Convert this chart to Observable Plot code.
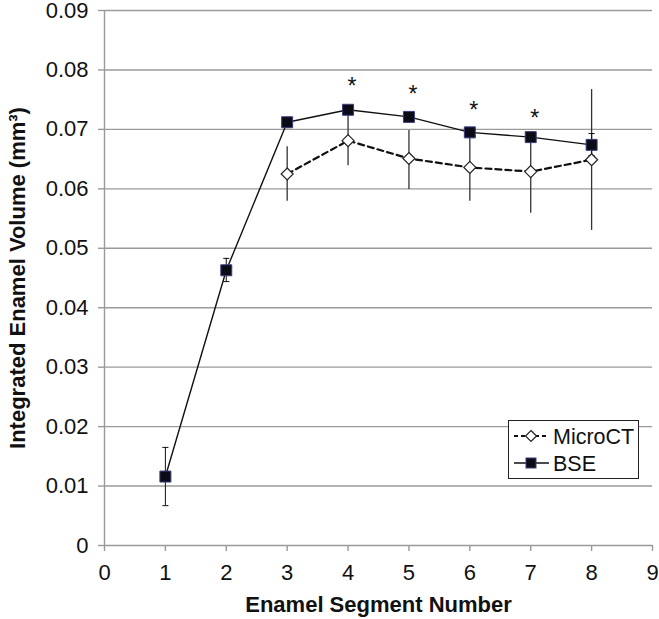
<!DOCTYPE html>
<html>
<head>
<meta charset="utf-8">
<script src="https://cdn.jsdelivr.net/npm/d3@7"></script>
<script src="https://cdn.jsdelivr.net/npm/@observablehq/plot@0.6"></script>
<style>
  html, body { margin: 0; padding: 0; background: #fff; }
  #wrap { position: relative; width: 659px; height: 619px; font-family: "Liberation Sans", Arial, sans-serif; }
  #legend { position: absolute; left: 508px; top: 420px; width: 129px; height: 57px; border: 1px solid #222; background: #fff; }
</style>
</head>
<body>
<div id="wrap"></div>
<script>
// ---- data ----
const segments = [1, 2, 3, 4, 5, 6, 7, 8];
const bse   = [0.0116, 0.0463, 0.0712, 0.0733, 0.0721, 0.0695, 0.0687, 0.0674];
const bseLo = [0.0067, 0.0444, 0.0706, 0.0727, 0.0715, 0.0689, 0.0681, 0.0656];
const bseHi = [0.0165, 0.0483, 0.0718, 0.0739, 0.0727, 0.0701, 0.0693, 0.0693];

const microSegments = [3, 4, 5, 6, 7, 8];
const micro   = [0.0625, 0.0681, 0.0651, 0.0636, 0.0629, 0.0649];
const microLo = [0.0579, 0.0639, 0.0599, 0.0579, 0.0559, 0.0530];
const microHi = [0.0671, 0.0724, 0.0698, 0.0693, 0.0695, 0.0767];

const starSegments = [4, 5, 6, 7];
const starY = [0.0782, 0.0768, 0.0742, 0.0729];

const xTicks = [0, 1, 2, 3, 4, 5, 6, 7, 8, 9];
const yTicks = [0, 0.01, 0.02, 0.03, 0.04, 0.05, 0.06, 0.07, 0.08, 0.09];
const xTitle = "Enamel Segment Number";
const yTitle = "Integrated Enamel Volume (mm³)";
const seriesNames = ["MicroCT", "BSE"];

// ---- tables ----
const bseData = segments.map((s, i) => ({x: s, y: bse[i], lo: bseLo[i], hi: bseHi[i]}));
const microData = microSegments.map((s, i) => ({x: s, y: micro[i], lo: microLo[i], hi: microHi[i]}));
const stars = starSegments.map((s, i) => ({x: s, y: starY[i]}));
const capW = 0.05;

const font = "Liberation Sans, Arial, sans-serif";

const chart = Plot.plot({
  width: 659,
  height: 619,
  marginLeft: 104,
  marginRight: 7,
  marginTop: 10,
  marginBottom: 74,
  style: {fontFamily: font, fontSize: "22px", color: "#111", background: "#fff", overflow: "visible"},
  x: {domain: [0, 9]},
  y: {domain: [0, 0.09]},
  marks: [
    Plot.gridY(yTicks, {stroke: "#9a9a9a", strokeOpacity: 1, strokeWidth: 1.4}),
    Plot.ruleX([0], {stroke: "#9a9a9a", strokeWidth: 1.4}),
    Plot.axisY({ticks: yTicks, tickFormat: d => d === 0 ? "0" : d.toFixed(2), tickSize: 6, tickPadding: 10,
      stroke: "#9a9a9a", strokeWidth: 1.4, fill: "#111", fontSize: 22, label: null}),
    Plot.axisX({ticks: xTicks, tickFormat: d => String(d), tickSize: 6, tickPadding: 13,
      stroke: "#9a9a9a", strokeWidth: 1.4, fill: "#111", fontSize: 22, label: null}),
    // error bars
    Plot.ruleX(microData, {x: "x", y1: "lo", y2: "hi", stroke: "#333", strokeWidth: 1.3}),
    Plot.ruleX(bseData, {x: "x", y1: "lo", y2: "hi", stroke: "#111", strokeWidth: 1}),
    Plot.link(bseData, {x1: d => d.x - capW, x2: d => d.x + capW, y1: "lo", y2: "lo", stroke: "#111", strokeWidth: 1}),
    Plot.link(bseData, {x1: d => d.x - capW, x2: d => d.x + capW, y1: "hi", y2: "hi", stroke: "#111", strokeWidth: 1}),
    // lines
    Plot.line(microData, {x: "x", y: "y", stroke: "#111", strokeWidth: 2.2, strokeDasharray: "6,4"}),
    Plot.line(bseData, {x: "x", y: "y", stroke: "#111", strokeWidth: 1.4}),
    // markers
    Plot.dot(microData, {x: "x", y: "y", symbol: "diamond2", r: 5.4, fill: "#fff", stroke: "#222", strokeWidth: 1.2}),
    Plot.dot(bseData, {x: "x", y: "y", symbol: "square", r: 6.2, fill: "#0b0b16", stroke: "#3c3c80", strokeWidth: 1}),
    // significance stars
    Plot.text(stars, {x: "x", y: "y", text: () => "*", fontSize: 23, dx: 4, dy: 6, fill: "#111"}),
    // axis titles
    Plot.text([xTitle], {frameAnchor: "bottom", lineAnchor: "middle", textAnchor: "middle", dy: 59, text: d => d,
      fontWeight: "bold", fontSize: 22, fill: "#111"}),
    Plot.text([yTitle], {frameAnchor: "left", lineAnchor: "middle", textAnchor: "middle", dx: -87, rotate: -90, text: d => d,
      fontWeight: "bold", fontSize: 22, fill: "#111"})
  ]
});

const wrap = document.getElementById("wrap");
wrap.appendChild(chart);

// legend (inside plot area, lower right)
const legend = document.createElement("div");
legend.id = "legend";
const ns = "http://www.w3.org/2000/svg";
const lsvg = document.createElementNS(ns, "svg");
lsvg.setAttribute("width", 129);
lsvg.setAttribute("height", 57);
const rowsY = [15, 42];
seriesNames.forEach((name, i) => {
  const y = rowsY[i];
  const line = document.createElementNS(ns, "line");
  line.setAttribute("x1", 5); line.setAttribute("x2", 40);
  line.setAttribute("y1", y); line.setAttribute("y2", y);
  line.setAttribute("stroke", "#111");
  if (i === 0) { line.setAttribute("stroke-dasharray", "4,3"); line.setAttribute("stroke-width", 2); }
  else { line.setAttribute("stroke-width", 1.4); }
  lsvg.appendChild(line);
  if (i === 0) {
    const p = document.createElementNS(ns, "path");
    p.setAttribute("d", `M22,${y - 5.5}L27.5,${y}L22,${y + 5.5}L16.5,${y}Z`);
    p.setAttribute("fill", "#fff"); p.setAttribute("stroke", "#222"); p.setAttribute("stroke-width", 1.2);
    lsvg.appendChild(p);
  } else {
    const r = document.createElementNS(ns, "rect");
    r.setAttribute("x", 17); r.setAttribute("y", y - 5); r.setAttribute("width", 10); r.setAttribute("height", 10);
    r.setAttribute("fill", "#0b0b16"); r.setAttribute("stroke", "#3c3c80"); r.setAttribute("stroke-width", 1);
    lsvg.appendChild(r);
  }
  const t = document.createElementNS(ns, "text");
  t.setAttribute("x", 44); t.setAttribute("y", y);
  t.setAttribute("dy", "0.36em");
  t.setAttribute("font-family", font);
  t.setAttribute("font-size", 21.5);
  t.setAttribute("fill", "#111");
  t.textContent = name;
  lsvg.appendChild(t);
});
legend.appendChild(lsvg);
wrap.appendChild(legend);
</script>
</body>
</html>
